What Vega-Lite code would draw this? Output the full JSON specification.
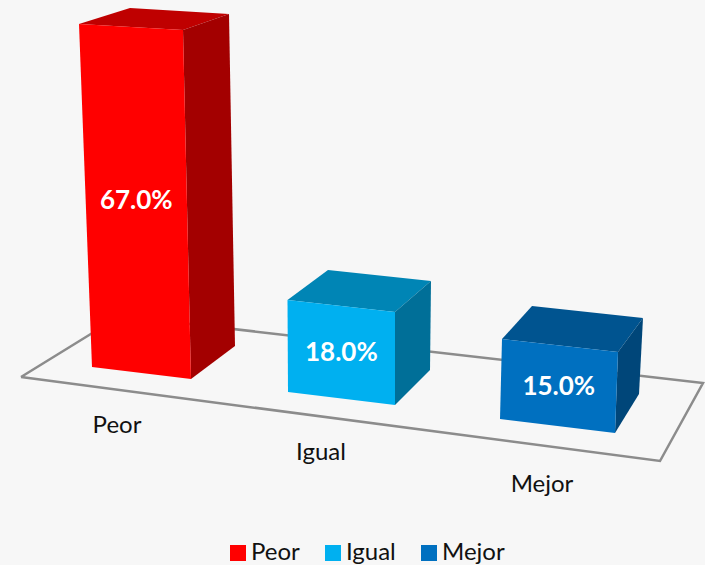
{
"$schema":"https://vega.github.io/schema/vega-lite/v6.json",
"width":705,"height":565,"padding":0,"autosize":{"type":"none"},
"background":"#f7f7f7",
"config":{"view":{"stroke":null},"font":"Lato"},
"datasets":{
"bars":[{"category":"Peor","value":0.67,"lx":117,"ly":426},{"category":"Igual","value":0.18,"lx":321,"ly":453},{"category":"Mejor","value":0.15,"lx":542,"ly":485}],
"floor":[{"k":0,"px":21,"py":377},{"k":1,"px":120,"py":316},{"k":2,"px":703,"py":383},{"k":3,"px":660,"py":461},{"k":4,"px":21,"py":377}],
"front":[
{"category":"Peor","k":0,"px":79,"py":24},{"category":"Peor","k":1,"px":183,"py":30},{"category":"Peor","k":2,"px":191,"py":379},{"category":"Peor","k":3,"px":92,"py":367},
{"category":"Igual","k":0,"px":287.5,"py":300},{"category":"Igual","k":1,"px":395,"py":312},{"category":"Igual","k":2,"px":395,"py":405},{"category":"Igual","k":3,"px":288,"py":392},
{"category":"Mejor","k":0,"px":502,"py":339},{"category":"Mejor","k":1,"px":618,"py":352},{"category":"Mejor","k":2,"px":615,"py":433},{"category":"Mejor","k":3,"px":500,"py":419}],
"top":[
{"category":"Peor","k":0,"px":79,"py":24},{"category":"Peor","k":1,"px":130,"py":8},{"category":"Peor","k":2,"px":229,"py":14},{"category":"Peor","k":3,"px":183,"py":30},
{"category":"Igual","k":0,"px":287.5,"py":300},{"category":"Igual","k":1,"px":328,"py":270},{"category":"Igual","k":2,"px":431,"py":281},{"category":"Igual","k":3,"px":395,"py":312},
{"category":"Mejor","k":0,"px":502,"py":339},{"category":"Mejor","k":1,"px":532,"py":306},{"category":"Mejor","k":2,"px":643,"py":318},{"category":"Mejor","k":3,"px":618,"py":352}],
"side":[
{"category":"Peor","k":0,"px":183,"py":30},{"category":"Peor","k":1,"px":229,"py":14},{"category":"Peor","k":2,"px":235,"py":346},{"category":"Peor","k":3,"px":191,"py":379},
{"category":"Igual","k":0,"px":395,"py":312},{"category":"Igual","k":1,"px":431,"py":281},{"category":"Igual","k":2,"px":430,"py":370},{"category":"Igual","k":3,"px":395,"py":405},
{"category":"Mejor","k":0,"px":618,"py":352},{"category":"Mejor","k":1,"px":643,"py":318},{"category":"Mejor","k":2,"px":639,"py":394},{"category":"Mejor","k":3,"px":615,"py":433}]
},
"encoding":{
"x":{"field":"px","type":"quantitative","axis":null,"scale":{"domain":[0,705],"nice":false,"zero":false}},
"y":{"field":"py","type":"quantitative","axis":null,"scale":{"domain":[565,0],"nice":false,"zero":false}}
},
"layer":[
{"data":{"name":"floor"},"mark":{"type":"line","stroke":"#8c8c8c","strokeWidth":2.5,"strokeJoin":"miter"},"encoding":{"order":{"field":"k"}}},
{"data":{"name":"top"},"mark":{"type":"line","stroke":null,"strokeWidth":0},
"encoding":{"order":{"field":"k"},"detail":{"field":"category"},"fill":{"field":"category","type":"nominal","legend":null,"scale":{"domain":["Peor","Igual","Mejor"],"range":["#bf0000","#0085b5","#005490"]}}}},
{"data":{"name":"side"},"mark":{"type":"line","stroke":null,"strokeWidth":0},
"encoding":{"order":{"field":"k"},"detail":{"field":"category"},"fill":{"field":"category","type":"nominal","legend":null,"scale":{"domain":["Peor","Igual","Mejor"],"range":["#a30000","#006f98","#004679"]}}}},
{"data":{"name":"front"},"mark":{"type":"line","stroke":null,"strokeWidth":0},
"encoding":{"order":{"field":"k"},"detail":{"field":"category"},"fill":{"field":"category","type":"nominal","scale":{"domain":["Peor","Igual","Mejor"],"range":["#ff0000","#00b0f0","#0070c0"]},
"legend":{"title":null,"orient":"none","legendX":226,"legendY":541,"direction":"horizontal","symbolType":"square","symbolSize":256,"symbolStrokeWidth":0,"symbolOpacity":1,"labelFont":"Lato","labelFontSize":24,"labelColor":"#111111","labelOffset":1,"columnPadding":21,"symbolOffset":0}}}},
{"data":{"name":"front"},
"transform":[{"aggregate":[{"op":"mean","field":"px","as":"px"},{"op":"mean","field":"py","as":"py"}],"groupby":["category"]},
{"lookup":"category","from":{"data":{"name":"bars"},"key":"category","fields":["value"]}}],
"mark":{"type":"text","font":"Lato","fontWeight":"bold","fontSize":26,"color":"#ffffff","align":"center","baseline":"middle","dy":1},
"encoding":{"text":{"field":"value","type":"quantitative","format":".1%"}}},
{"data":{"name":"bars"},
"mark":{"type":"text","font":"Lato","fontSize":24,"color":"#111111","align":"center","baseline":"middle"},
"encoding":{"x":{"field":"lx","type":"quantitative"},"y":{"field":"ly","type":"quantitative"},"text":{"field":"category","type":"nominal"}}}
],
"resolve":{"scale":{"fill":"independent"}}
}
